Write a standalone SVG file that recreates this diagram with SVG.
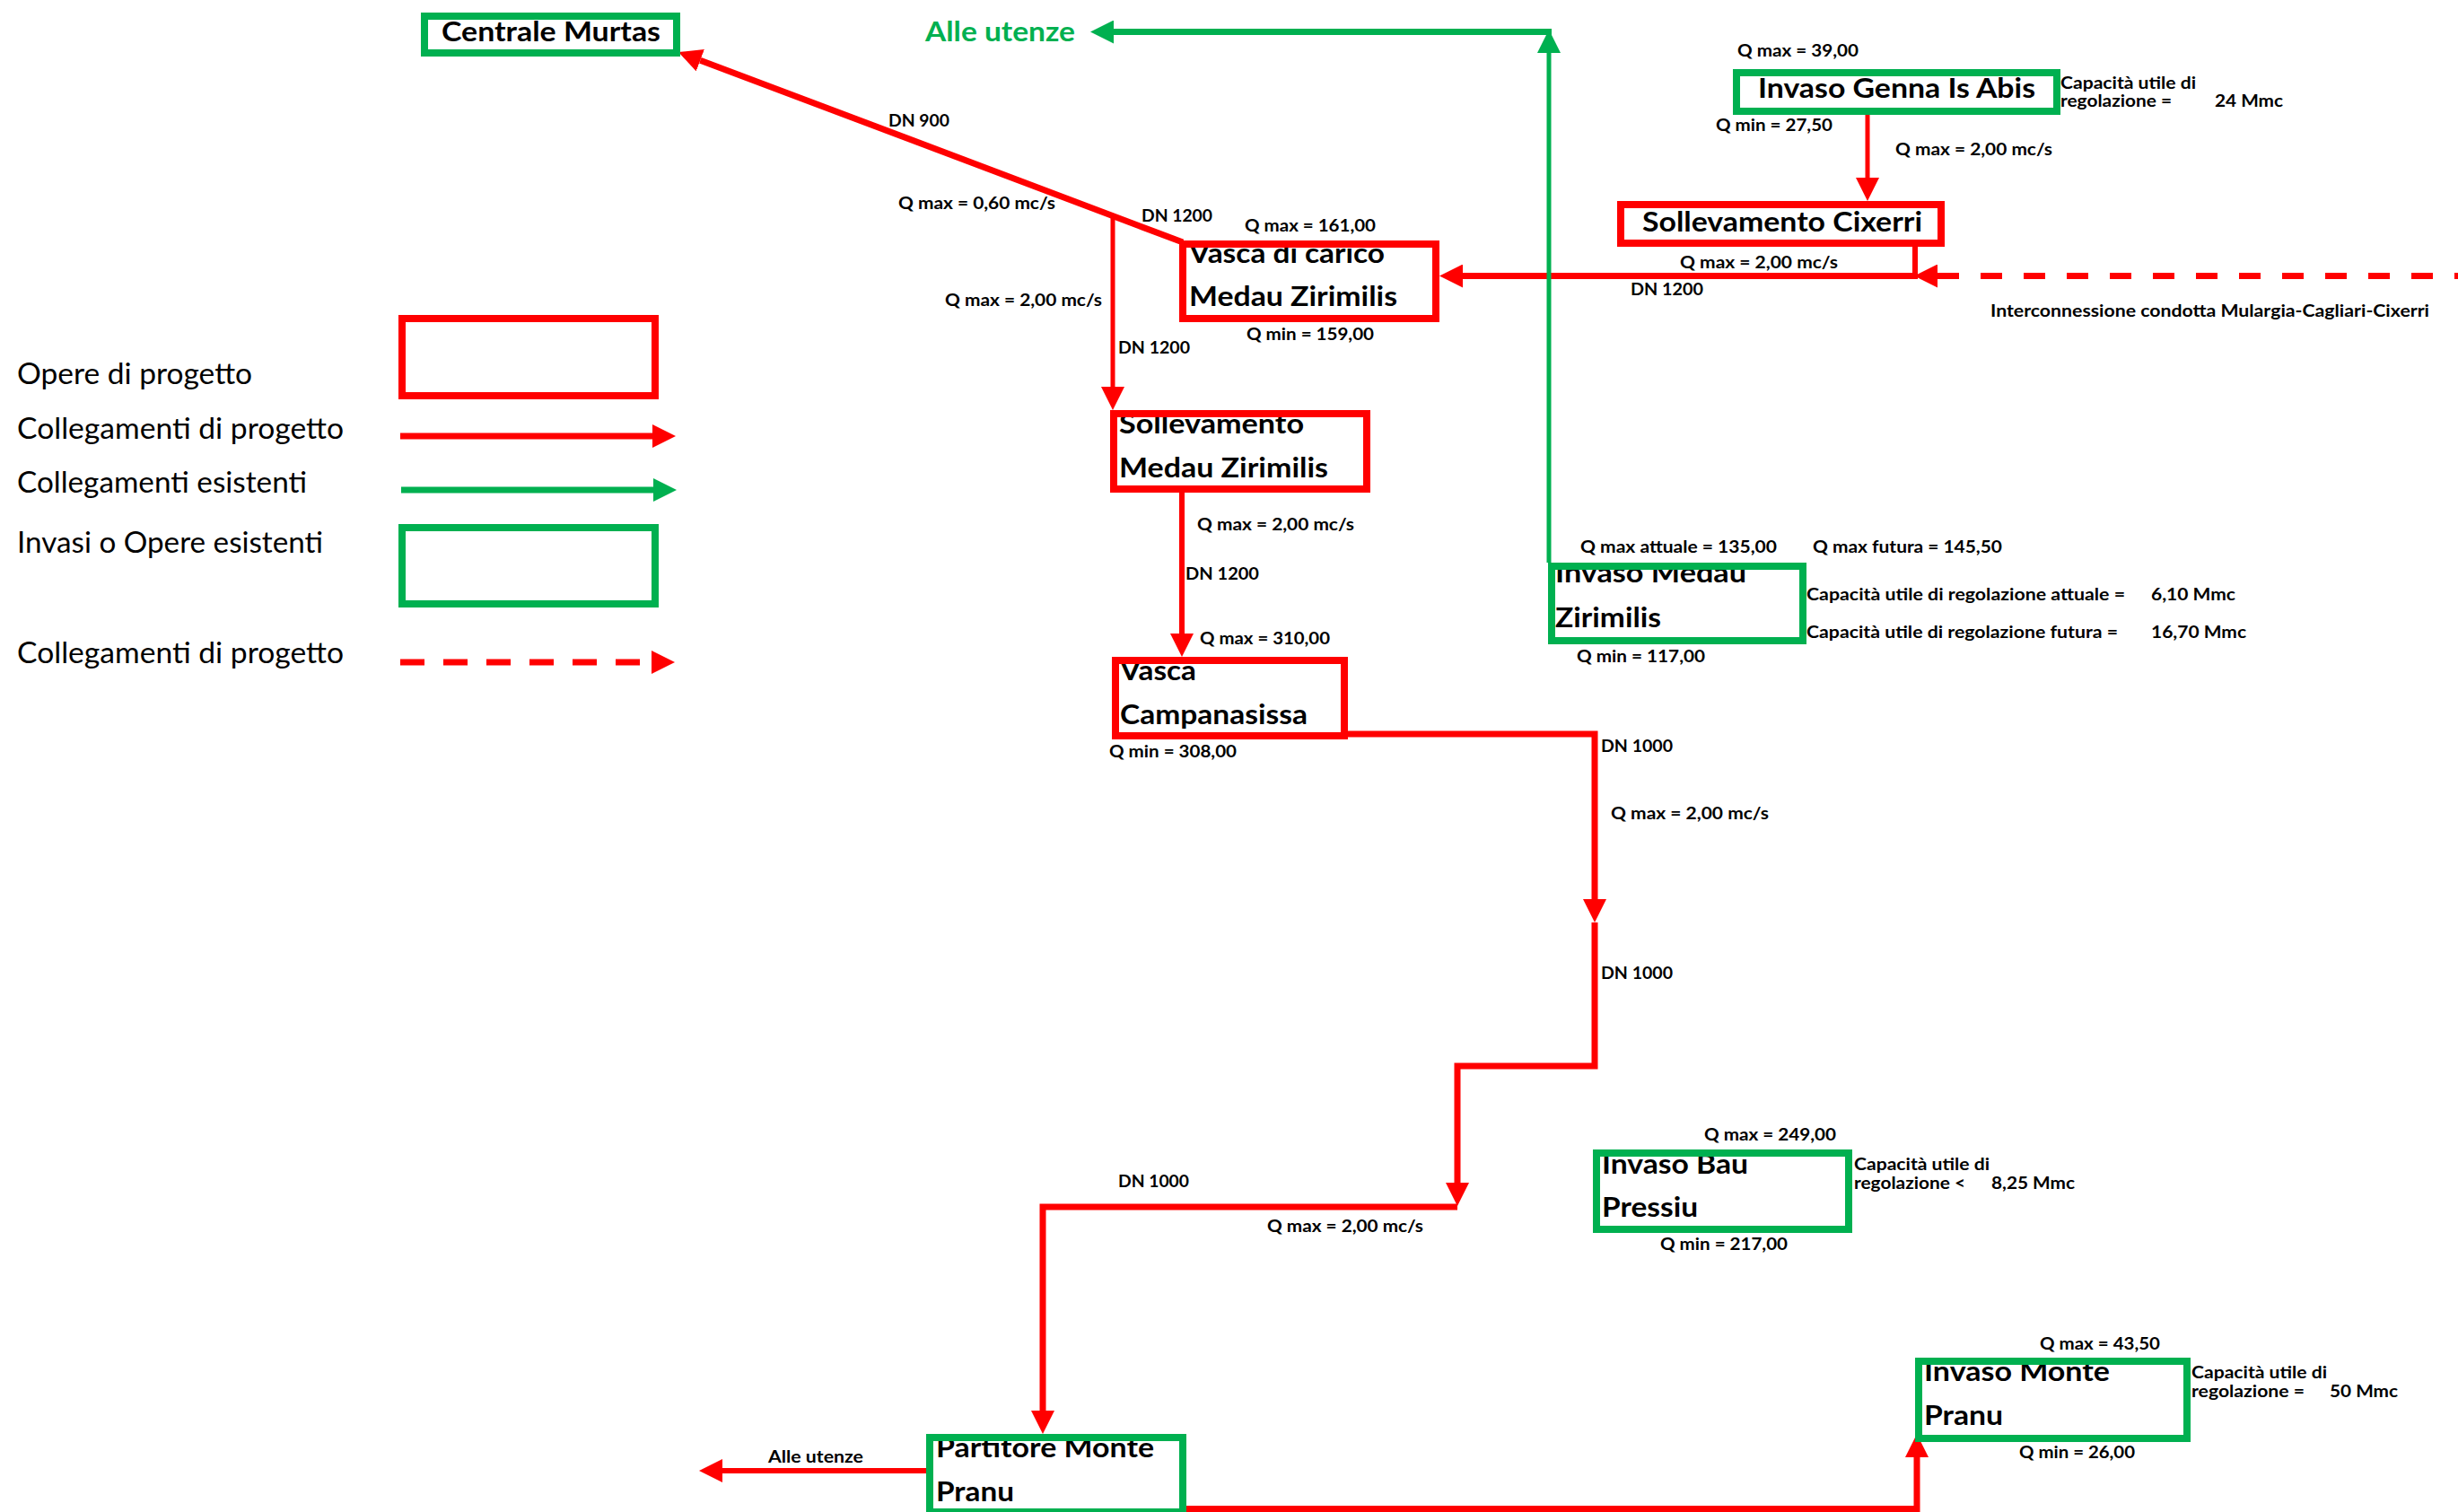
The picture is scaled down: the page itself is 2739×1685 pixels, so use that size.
<svg xmlns="http://www.w3.org/2000/svg" width="2739" height="1685" viewBox="0 0 2739 1685">
<style>
.lbl{font-family:Lato,"Liberation Sans",sans-serif;font-weight:700;font-size:19px;fill:#000}
.nt{font-family:Lato,"Liberation Sans",sans-serif;font-weight:700;font-size:30px;fill:#000}
.leg{font-family:Lato,"Liberation Sans",sans-serif;font-weight:400;font-size:32px;fill:#000}
.gt{font-family:Lato,"Liberation Sans",sans-serif;font-weight:700;font-size:30px;fill:#00B050}
.br{fill:none;stroke:#FF0000;stroke-width:8}
.bg{fill:none;stroke:#00B050;stroke-width:8}
.r7{fill:none;stroke:#FF0000;stroke-width:7}
.r6{fill:none;stroke:#FF0000;stroke-width:6}
.r5{fill:none;stroke:#FF0000;stroke-width:5}
.g7{fill:none;stroke:#00B050;stroke-width:7}
.g5{fill:none;stroke:#00B050;stroke-width:5}
.ar{marker-end:url(#mr)}
.ag{marker-end:url(#mg)}
</style>
<defs>
<marker id="mr" viewBox="0 -13 26 26" markerWidth="26" markerHeight="26" refX="0" refY="0" orient="auto" markerUnits="userSpaceOnUse"><path d="M0,-13 L26,0 L0,13 z" fill="#FF0000"/></marker>
<marker id="mg" viewBox="0 -13 26 26" markerWidth="26" markerHeight="26" refX="0" refY="0" orient="auto" markerUnits="userSpaceOnUse"><path d="M0,-13 L26,0 L0,13 z" fill="#00B050"/></marker>
<clipPath id="c-vc"><rect x="1314" y="268" width="290" height="91"/></clipPath>
<clipPath id="c-sm"><rect x="1237" y="457" width="290" height="92"/></clipPath>
<clipPath id="c-cp"><rect x="1239" y="732" width="263" height="92"/></clipPath>
<clipPath id="c-mz"><rect x="1725" y="627" width="288" height="91"/></clipPath>
<clipPath id="c-bp"><rect x="1775" y="1281" width="289" height="93"/></clipPath>
<clipPath id="c-mp"><rect x="2134" y="1513" width="307" height="94"/></clipPath>
<clipPath id="c-pm"><rect x="1032" y="1598" width="290" height="91"/></clipPath>
</defs>
<rect x="0" y="0" width="2739" height="1685" fill="#FFFFFF"/>

<g id="connectors">
<path class="r7 ar" d="M1318,270 L780.3,67.2"/>
<path class="r5 ar" d="M1240,243 V431"/>
<path class="r5 ar" d="M2081,128 V198"/>
<path class="r6" d="M2134,275 V310"/>
<path class="r7 ar" d="M2137,307.5 H1630"/>
<path class="r7 ar" d="M2739,307.5 H2159" stroke-dasharray="24 24" stroke-dashoffset="20"/>
<path class="r6 ar" d="M1317,549 V706"/>
<path class="r7 ar" d="M1502,818 H1777 V1002"/>
<path class="r7 ar" d="M1777,1028 V1188 H1624 V1318"/>
<path class="r7 ar" d="M1624,1345 H1162 V1572"/>
<path class="r6 ar" d="M1032,1639 H805"/>
<path class="r7 ar" d="M1322,1681.5 H2136 V1624"/>
<path class="g5 ag" d="M1726,627 V59"/>
<path class="g7 ag" d="M1729,35.5 H1241"/>
</g>

<g id="legend">
<text class="leg" x="19" y="428" textLength="262" lengthAdjust="spacingAndGlyphs">Opere di progetto</text>
<rect class="br" x="448" y="355" width="282" height="86"/>
<text class="leg" x="19" y="489" textLength="364" lengthAdjust="spacingAndGlyphs">Collegamenti di progetto</text>
<path class="r7 ar" d="M446,486 H727" stroke-width="8"/>
<text class="leg" x="19" y="549" textLength="323" lengthAdjust="spacingAndGlyphs">Collegamenti esistenti</text>
<path class="g7 ag" d="M447,546 H728"/>
<text class="leg" x="19" y="616" textLength="341" lengthAdjust="spacingAndGlyphs">Invasi o Opere esistenti</text>
<rect class="bg" x="448" y="588" width="282" height="85"/>
<text class="leg" x="19" y="739" textLength="364" lengthAdjust="spacingAndGlyphs">Collegamenti di progetto</text>
<path class="r7 ar" d="M446,738 H726" stroke-width="8" stroke-dasharray="27 21"/>
</g>

<g id="n-centrale-murtas">
<text class="nt" x="492" y="46" textLength="244" lengthAdjust="spacingAndGlyphs">Centrale Murtas</text>
<rect class="bg" x="473" y="18" width="281" height="41"/>
</g>

<g id="n-alle-utenze-nord">
<text class="gt" x="1031" y="46" textLength="167" lengthAdjust="spacingAndGlyphs">Alle utenze</text>
</g>

<g id="n-genna-is-abis">
<text class="nt" x="1959" y="109" textLength="309" lengthAdjust="spacingAndGlyphs">Invaso Genna Is Abis</text>
<rect class="bg" x="1935" y="81" width="357" height="43"/>
<text class="lbl" x="1936" y="63" textLength="135" lengthAdjust="spacingAndGlyphs">Q max = 39,00</text>
<text class="lbl" x="1912" y="146" textLength="130" lengthAdjust="spacingAndGlyphs">Q min = 27,50</text>
<text class="lbl" x="2296" y="99" textLength="151" lengthAdjust="spacingAndGlyphs">Capacità utile di</text>
<text class="lbl" x="2296" y="119" textLength="124" lengthAdjust="spacingAndGlyphs">regolazione =</text>
<text class="lbl" x="2468" y="119" textLength="76" lengthAdjust="spacingAndGlyphs">24 Mmc</text>
</g>

<g id="n-sollevamento-cixerri">
<text class="nt" x="1830" y="258" textLength="312" lengthAdjust="spacingAndGlyphs">Sollevamento Cixerri</text>
<rect class="br" x="1806" y="228" width="357" height="43"/>
</g>

<g id="n-vasca-carico">
<g clip-path="url(#c-vc)">
<text class="nt" x="1325" y="293" textLength="218" lengthAdjust="spacingAndGlyphs">Vasca di carico</text>
<text class="nt" x="1325" y="341" textLength="232" lengthAdjust="spacingAndGlyphs">Medau Zirimilis</text>
</g>
<rect class="br" x="1318" y="272" width="282" height="83"/>
<text class="lbl" x="1387" y="258" textLength="146" lengthAdjust="spacingAndGlyphs">Q max = 161,00</text>
<text class="lbl" x="1389" y="379" textLength="142" lengthAdjust="spacingAndGlyphs">Q min = 159,00</text>
</g>

<g id="n-sollevamento-medau">
<g clip-path="url(#c-sm)">
<text class="nt" x="1247" y="483" textLength="206" lengthAdjust="spacingAndGlyphs">Sollevamento</text>
<text class="nt" x="1247" y="532" textLength="233" lengthAdjust="spacingAndGlyphs">Medau Zirimilis</text>
</g>
<rect class="br" x="1241" y="461" width="282" height="84"/>
</g>

<g id="n-vasca-campanasissa">
<g clip-path="url(#c-cp)">
<text class="nt" x="1248" y="758" textLength="85" lengthAdjust="spacingAndGlyphs">Vasca</text>
<text class="nt" x="1248" y="807" textLength="209" lengthAdjust="spacingAndGlyphs">Campanasissa</text>
</g>
<rect class="br" x="1243" y="736" width="255" height="84"/>
<text class="lbl" x="1337" y="718" textLength="145" lengthAdjust="spacingAndGlyphs">Q max = 310,00</text>
<text class="lbl" x="1236" y="844" textLength="142" lengthAdjust="spacingAndGlyphs">Q min = 308,00</text>
</g>

<g id="n-invaso-medau">
<g clip-path="url(#c-mz)">
<text class="nt" x="1733" y="649" textLength="213" lengthAdjust="spacingAndGlyphs">Invaso Medau</text>
<text class="nt" x="1733" y="699" textLength="118" lengthAdjust="spacingAndGlyphs">Zirimilis</text>
</g>
<rect class="bg" x="1729" y="631" width="280" height="83"/>
<text class="lbl" x="1761" y="616" textLength="219" lengthAdjust="spacingAndGlyphs">Q max attuale = 135,00</text>
<text class="lbl" x="2020" y="616" textLength="211" lengthAdjust="spacingAndGlyphs">Q max futura = 145,50</text>
<text class="lbl" x="2013" y="669" textLength="355" lengthAdjust="spacingAndGlyphs">Capacità utile di regolazione attuale =</text>
<text class="lbl" x="2397" y="669" textLength="94" lengthAdjust="spacingAndGlyphs">6,10 Mmc</text>
<text class="lbl" x="2013" y="711" textLength="347" lengthAdjust="spacingAndGlyphs">Capacità utile di regolazione futura =</text>
<text class="lbl" x="2397" y="711" textLength="106" lengthAdjust="spacingAndGlyphs">16,70 Mmc</text>
<text class="lbl" x="1757" y="738" textLength="143" lengthAdjust="spacingAndGlyphs">Q min = 117,00</text>
</g>

<g id="n-bau-pressiu">
<g clip-path="url(#c-bp)">
<text class="nt" x="1785" y="1308" textLength="163" lengthAdjust="spacingAndGlyphs">Invaso Bau</text>
<text class="nt" x="1785" y="1356" textLength="107" lengthAdjust="spacingAndGlyphs">Pressiu</text>
</g>
<rect class="bg" x="1779" y="1285" width="281" height="85"/>
<text class="lbl" x="1899" y="1271" textLength="147" lengthAdjust="spacingAndGlyphs">Q max = 249,00</text>
<text class="lbl" x="1850" y="1393" textLength="142" lengthAdjust="spacingAndGlyphs">Q min = 217,00</text>
<text class="lbl" x="2066" y="1304" textLength="151" lengthAdjust="spacingAndGlyphs">Capacità utile di</text>
<text class="lbl" x="2066" y="1325" textLength="124" lengthAdjust="spacingAndGlyphs">regolazione &lt;</text>
<text class="lbl" x="2219" y="1325" textLength="93" lengthAdjust="spacingAndGlyphs">8,25 Mmc</text>
</g>

<g id="n-monte-pranu">
<g clip-path="url(#c-mp)">
<text class="nt" x="2144" y="1539" textLength="207" lengthAdjust="spacingAndGlyphs">Invaso Monte</text>
<text class="nt" x="2144" y="1588" textLength="88" lengthAdjust="spacingAndGlyphs">Pranu</text>
</g>
<rect class="bg" x="2138" y="1517" width="299" height="86"/>
<text class="lbl" x="2273" y="1504" textLength="134" lengthAdjust="spacingAndGlyphs">Q max = 43,50</text>
<text class="lbl" x="2250" y="1625" textLength="129" lengthAdjust="spacingAndGlyphs">Q min = 26,00</text>
<text class="lbl" x="2442" y="1536" textLength="151" lengthAdjust="spacingAndGlyphs">Capacità utile di</text>
<text class="lbl" x="2442" y="1557" textLength="126" lengthAdjust="spacingAndGlyphs">regolazione =</text>
<text class="lbl" x="2596" y="1557" textLength="76" lengthAdjust="spacingAndGlyphs">50 Mmc</text>
</g>

<g id="n-partitore">
<g clip-path="url(#c-pm)">
<text class="nt" x="1043" y="1624" textLength="243" lengthAdjust="spacingAndGlyphs">Partitore Monte</text>
<text class="nt" x="1043" y="1673" textLength="87" lengthAdjust="spacingAndGlyphs">Pranu</text>
</g>
<rect class="bg" x="1036" y="1602" width="282" height="83"/>
</g>

<g id="connector-labels">
<text class="lbl" x="990" y="141" textLength="68" lengthAdjust="spacingAndGlyphs">DN 900</text>
<text class="lbl" x="1001" y="233" textLength="175" lengthAdjust="spacingAndGlyphs">Q max = 0,60 mc/s</text>
<text class="lbl" x="1272" y="247" textLength="79" lengthAdjust="spacingAndGlyphs">DN 1200</text>
<text class="lbl" x="1053" y="341" textLength="175" lengthAdjust="spacingAndGlyphs">Q max = 2,00 mc/s</text>
<text class="lbl" x="1246" y="394" textLength="80" lengthAdjust="spacingAndGlyphs">DN 1200</text>
<text class="lbl" x="2112" y="173" textLength="175" lengthAdjust="spacingAndGlyphs">Q max = 2,00 mc/s</text>
<text class="lbl" x="1872" y="299" textLength="176" lengthAdjust="spacingAndGlyphs">Q max = 2,00 mc/s</text>
<text class="lbl" x="1817" y="329" textLength="81" lengthAdjust="spacingAndGlyphs">DN 1200</text>
<text class="lbl" x="2218" y="353" textLength="489" lengthAdjust="spacingAndGlyphs">Interconnessione condotta Mulargia-Cagliari-Cixerri</text>
<text class="lbl" x="1334" y="591" textLength="175" lengthAdjust="spacingAndGlyphs">Q max = 2,00 mc/s</text>
<text class="lbl" x="1321" y="646" textLength="82" lengthAdjust="spacingAndGlyphs">DN 1200</text>
<text class="lbl" x="1784" y="838" textLength="80" lengthAdjust="spacingAndGlyphs">DN 1000</text>
<text class="lbl" x="1795" y="913" textLength="176" lengthAdjust="spacingAndGlyphs">Q max = 2,00 mc/s</text>
<text class="lbl" x="1784" y="1091" textLength="80" lengthAdjust="spacingAndGlyphs">DN 1000</text>
<text class="lbl" x="1246" y="1323" textLength="79" lengthAdjust="spacingAndGlyphs">DN 1000</text>
<text class="lbl" x="1412" y="1373" textLength="174" lengthAdjust="spacingAndGlyphs">Q max = 2,00 mc/s</text>
<text class="lbl" x="856" y="1630" textLength="106" lengthAdjust="spacingAndGlyphs">Alle utenze</text>
</g>
</svg>
